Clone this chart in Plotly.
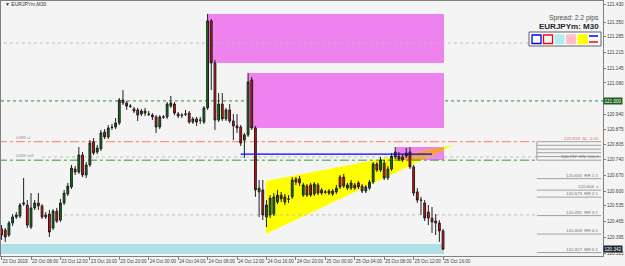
import plotly.graph_objects as go
import pandas as pd
import numpy as np

# ---------------- data ----------------
bar_times = pd.date_range("2019-10-23 04:00", periods=121, freq="30min")

opens = [120.432,120.427,120.405,120.458,120.485,120.489,120.542,120.538,120.440,120.525,
         120.547,120.534,120.485,120.498,120.436,120.511,120.471,120.547,120.587,120.618,
         120.698,120.684,120.760,120.671,120.716,120.818,120.773,120.787,120.862,120.840,
         120.884,120.884,120.902,121.004,120.991,120.977,120.964,120.960,120.942,120.955,
         120.942,120.937,120.929,120.884,120.929,120.929,120.977,120.986,120.942,120.937,
         120.942,120.946,120.906,120.920,120.915,120.906,120.969,121.355,121.168,120.915,
         120.986,120.920,120.960,120.911,120.889,120.884,120.826,120.849,121.093,120.880,
         120.596,120.605,120.485,120.494,120.498,120.551,120.582,120.551,120.565,120.574,
         120.654,120.654,120.582,120.622,120.627,120.587,120.627,120.605,120.596,120.600,
         120.587,120.596,120.662,120.662,120.613,120.613,120.627,120.636,120.622,120.600,
         120.613,120.640,120.720,120.693,120.724,120.658,120.698,120.751,120.755,120.751,
         120.769,120.773,120.707,120.596,120.560,120.547,120.507,120.480,120.467,120.458,
         120.423]
highs = [120.449,120.436,120.467,120.498,120.507,120.547,120.658,120.560,120.591,120.560,
         120.591,120.542,120.507,120.516,120.520,120.525,120.565,120.605,120.636,120.716,
         120.711,120.795,120.773,120.729,120.826,120.835,120.804,120.871,120.875,120.893,
         120.898,120.924,121.013,121.048,121.000,120.986,120.973,120.969,120.964,120.969,
         120.955,120.946,120.937,120.937,120.937,120.995,121.022,120.995,120.951,120.946,
         120.960,120.955,120.929,120.929,120.929,120.977,121.386,121.363,121.182,121.035,
         121.035,120.969,120.986,120.942,120.942,120.893,120.858,121.124,121.106,120.889,
         120.649,120.649,120.560,120.582,120.591,120.605,120.596,120.587,120.582,120.662,
         120.662,120.667,120.636,120.631,120.636,120.640,120.636,120.613,120.605,120.609,
         120.609,120.627,120.671,120.676,120.636,120.649,120.636,120.644,120.631,120.627,
         120.649,120.729,120.729,120.751,120.738,120.711,120.769,120.795,120.773,120.764,
         120.791,120.795,120.716,120.613,120.574,120.560,120.538,120.529,120.498,120.471,
         120.432]
lows = [120.383,120.374,120.396,120.445,120.476,120.480,120.534,120.436,120.432,120.516,
        120.516,120.476,120.476,120.396,120.427,120.458,120.463,120.538,120.578,120.609,
        120.671,120.676,120.662,120.658,120.707,120.760,120.764,120.778,120.831,120.831,
        120.871,120.875,120.893,120.982,120.960,120.969,120.946,120.911,120.933,120.933,
        120.933,120.915,120.858,120.875,120.920,120.920,120.969,120.937,120.924,120.924,
        120.933,120.898,120.898,120.889,120.898,120.898,120.960,121.048,120.871,120.906,
        120.911,120.911,120.902,120.826,120.858,120.800,120.747,120.840,120.871,120.574,
        120.485,120.471,120.440,120.480,120.489,120.542,120.551,120.538,120.547,120.565,
        120.627,120.622,120.574,120.574,120.574,120.578,120.582,120.582,120.587,120.582,
        120.578,120.587,120.609,120.613,120.605,120.605,120.605,120.609,120.591,120.591,
        120.605,120.631,120.684,120.684,120.649,120.649,120.689,120.742,120.733,120.729,
        120.747,120.698,120.578,120.547,120.494,120.467,120.449,120.414,120.405,120.374,
        120.338]
closes = [120.405,120.396,120.458,120.485,120.494,120.538,120.547,120.449,120.525,120.547,
          120.534,120.485,120.494,120.418,120.511,120.467,120.547,120.591,120.622,120.702,
          120.684,120.760,120.671,120.716,120.813,120.769,120.791,120.858,120.840,120.880,
          120.882,120.902,121.004,120.991,120.977,120.976,120.955,120.937,120.955,120.946,
          120.941,120.929,120.884,120.929,120.928,120.986,120.991,120.946,120.933,120.936,
          120.941,120.906,120.920,120.906,120.914,120.969,121.355,121.168,120.915,120.986,
          120.920,120.960,120.911,120.889,120.880,120.813,120.849,121.084,120.880,120.605,
          120.613,120.494,120.538,120.569,120.574,120.582,120.565,120.574,120.564,120.649,
          120.640,120.636,120.627,120.582,120.582,120.631,120.591,120.591,120.595,120.591,
          120.600,120.613,120.618,120.622,120.627,120.636,120.613,120.618,120.600,120.618,
          120.640,120.720,120.693,120.738,120.658,120.698,120.755,120.773,120.742,120.738,
          120.755,120.707,120.591,120.560,120.559,120.480,120.480,120.463,120.458,120.423,
          120.342]

price_ticks = [121.430, 121.350, 121.285, 121.215, 121.145, 121.080, 120.940, 120.875,
               120.805, 120.740, 120.670, 120.600, 120.535, 120.465, 120.395, 120.325]
time_ticks = pd.date_range("2019-10-23 04:00", "2019-10-25 16:00", freq="4h")
time_labels = ["23 Oct 2019", "23 Oct 08:00", "23 Oct 12:00", "23 Oct 16:00", "23 Oct 20:00",
               "24 Oct 00:00", "24 Oct 04:00", "24 Oct 08:00", "24 Oct 12:00", "24 Oct 16:00",
               "24 Oct 20:00", "25 Oct 00:00", "25 Oct 04:00", "25 Oct 08:00", "25 Oct 12:00",
               "25 Oct 16:00"]

# zones (start time, end time, low, high)
supply_zones = [("2019-10-24 08:00", "2019-10-25 16:08", 121.168, 121.386),
                ("2019-10-24 13:30", "2019-10-25 16:08", 120.880, 121.124),
                ("2019-10-25 09:30", "2019-10-25 16:08", 120.738, 120.795)]
demand_zone = ("2019-10-23 03:30", "2019-10-25 16:08", 120.320, 120.365)

wedge_times = ["2019-10-24 15:55", "2019-10-24 15:55", "2019-10-25 17:30"]
wedge_prices = [120.644, 120.409, 120.804]

round_level = 121.000
sl_level, sell_level = 120.819, 120.737
blue_level = ("2019-10-24 12:30", "2019-10-25 14:30", 120.764)
gray_levels = [("2019-10-23 03:30", "2019-10-26 14:00", 121.257),
               ("2019-10-23 09:30", "2019-10-26 04:45", 120.751),
               ("2019-10-23 12:30", "2019-10-26 04:45", 120.494)]
levels_end = "2019-10-26 04:45"

rr_prices = [120.819, 120.803, 120.786, 120.770, 120.753, 120.737, 120.655, 120.604,
             120.573, 120.491, 120.409, 120.327]
rr_labels = ["120.819  SL  0.00", "", "", "", "", "120.737  EN  100.0", "120.655  RR 1:1",
             "120.604  x", "120.573  RR 2:1", "120.491  RR 3:1", "120.409  RR 4:1", "120.327  RR 5:1"]

bid_price = 120.342

# ---------------- figure ----------------
W, H = 625, 266
ML, MR, MT, MB = 1, 22, 1, 10
PW, PH = W - ML - MR, H - MT - MB
def px(x):
    return (x - ML) / PW
def py(y):
    return 1 - (y - MT) / PH

FONT = "Liberation Sans"
fig = go.Figure()

def dpath(ts, ps):
    pts = [f"{pd.Timestamp(t).strftime('%Y-%m-%d_%H:%M:%S')},{p}" for t, p in zip(ts, ps)]
    return "M" + "L".join(pts) + "Z"

# overlap wedge/last zone (orange)
def clip_poly(poly, xmin, xmax, ymin, ymax):
    def clip(pts, inside, inter):
        out = []
        for k in range(len(pts)):
            a, b = pts[k - 1], pts[k]
            ia, ib = inside(a), inside(b)
            if ib:
                if not ia:
                    out.append(inter(a, b))
                out.append(b)
            elif ia:
                out.append(inter(a, b))
        return out
    def ix(v):
        return lambda a, b: (v, a[1] + (b[1] - a[1]) * (v - a[0]) / (b[0] - a[0]))
    def iy(v):
        return lambda a, b: (a[0] + (b[0] - a[0]) * (v - a[1]) / (b[1] - a[1]), v)
    p = poly
    p = clip(p, lambda q: q[0] >= xmin, ix(xmin))
    p = clip(p, lambda q: q[0] <= xmax, ix(xmax))
    p = clip(p, lambda q: q[1] >= ymin, iy(ymin))
    p = clip(p, lambda q: q[1] <= ymax, iy(ymax))
    return p

t0 = pd.Timestamp("2019-10-23")
def tnum(t):
    return (pd.Timestamp(t) - t0).total_seconds() / 60.0

shapes = []
for (a, b, lo, hi) in supply_zones:
    shapes.append(dict(type="rect", xref="x", yref="y", x0=a, x1=b, y0=lo, y1=hi,
                       fillcolor="#EE82EE", line=dict(width=0), layer="below"))
a, b, lo, hi = demand_zone
shapes.append(dict(type="rect", xref="x", yref="y", x0=a, x1=b, y0=lo, y1=hi,
                   fillcolor="#B0E0E6", line=dict(width=0), layer="below"))
# wedge (yellow) and its overlap with the last zone (orange)
shapes.append(dict(type="path", xref="x", yref="y", path=dpath(wedge_times, wedge_prices),
                   fillcolor="#FFFF00", line=dict(width=0), layer="below"))
wedge_poly = [(tnum(t), p) for t, p in zip(wedge_times, wedge_prices)]
z = supply_zones[2]
ov = clip_poly(wedge_poly, tnum(z[0]), tnum(z[1]), z[2], z[3])
if ov:
    shapes.append(dict(type="path", xref="x", yref="y",
                       path=dpath([t0 + pd.Timedelta(minutes=a) for a, _ in ov], [b for _, b in ov]),
                       fillcolor="#F2A33A", line=dict(width=0), layer="below"))
# gray dotted levels
for (a, b, lv) in gray_levels:
    shapes.append(dict(type="line", xref="x", yref="y", x0=a, x1=b, y0=lv, y1=lv,
                       line=dict(color="#BDBDBD", width=1, dash="dot"), layer="below"))
# round number
shapes.append(dict(type="line", xref="paper", yref="y", x0=0, x1=1, y0=round_level, y1=round_level,
                   line=dict(color="#2E8B2E", width=1, dash="dot"), layer="below"))
# sl / sell
shapes.append(dict(type="line", xref="x", yref="y", x0="2019-10-23 03:30", x1=levels_end, y0=sl_level, y1=sl_level,
                   line=dict(color="#FF7F50", width=1, dash="dashdot"), layer="below"))
shapes.append(dict(type="line", xref="x", yref="y", x0="2019-10-23 03:30", x1=levels_end, y0=sell_level, y1=sell_level,
                   line=dict(color="#339933", width=1, dash="dashdot"), layer="below"))
# blue line
shapes.append(dict(type="line", xref="x", yref="y", x0=blue_level[0], x1=blue_level[1], y0=blue_level[2], y1=blue_level[2],
                   line=dict(color="#0000FF", width=1.3)))
# RR box
for lv in rr_prices:
    shapes.append(dict(type="line", xref="x", yref="y", x0=levels_end, x1="2019-10-26 13:30", y0=lv, y1=lv,
                       line=dict(color="#A0A0A0", width=1)))
shapes.append(dict(type="line", xref="x", yref="y", x0=levels_end, x1=levels_end, y0=sell_level, y1=sl_level,
                   line=dict(color="#A0A0A0", width=1)))

# legend box top-right
shapes.append(dict(type="rect", xref="paper", yref="paper", x0=px(529), x1=px(601), y0=py(46), y1=py(32),
                   fillcolor="#FFFFFF", line=dict(color="#606060", width=1)))
icon_specs = [("#FFFFFF", "#0000FF"), ("#FFFFFF", "#FF0000"), ("#AFEEEE", "#AFEEEE"),
              ("#FFC0CB", "#FFC0CB"), ("#FFFF00", "#FFFF00")]
for k, (fc, lc) in enumerate(icon_specs):
    x0 = 532 + k * 11.5
    shapes.append(dict(type="rect", xref="paper", yref="paper", x0=px(x0), x1=px(x0 + 9), y0=py(43.5), y1=py(35),
                       fillcolor=fc, line=dict(color=lc, width=1.3)))
shapes.append(dict(type="line", xref="paper", yref="paper", x0=px(589), x1=px(598), y0=py(36), y1=py(36),
                   line=dict(color="#0000FF", width=1.5)))
shapes.append(dict(type="line", xref="paper", yref="paper", x0=px(589), x1=px(598), y0=py(42), y1=py(42),
                   line=dict(color="#FF0000", width=1.5)))

# candles
fig.add_trace(go.Candlestick(
    x=bar_times, open=opens, high=highs, low=lows, close=closes,
    increasing=dict(line=dict(color="#202020", width=1), fillcolor="#008000"),
    decreasing=dict(line=dict(color="#202020", width=1), fillcolor="#FF0000"),
    whiskerwidth=0, hoverinfo="skip", showlegend=False))

ann = []
ann.append(dict(xref="paper", yref="paper", x=px(3), y=py(4.5), text="▼ EURJPYm,M30", showarrow=False,
                xanchor="left", yanchor="middle", font=dict(family=FONT, size=5, color="#303030")))
ann.append(dict(xref="paper", yref="paper", x=px(601), y=py(18), text="Spread: 2.2 pips", showarrow=False,
                xanchor="right", yanchor="middle", font=dict(family=FONT, size=6.8, color="#505050")))
ann.append(dict(xref="paper", yref="paper", x=px(601), y=py(26.5), text="<b>EURJPYm: M30</b>", showarrow=False,
                xanchor="right", yanchor="middle", font=dict(family=FONT, size=8, color="#1C2833")))
ann.append(dict(xref="paper", yref="y", x=px(14), y=sl_level, text="0489 sl", showarrow=False,
                xanchor="left", yanchor="bottom", font=dict(family=FONT, size=4.4, color="#909090")))
ann.append(dict(xref="paper", yref="y", x=px(14), y=sell_level, text="0489 sell", showarrow=False,
                xanchor="left", yanchor="bottom", font=dict(family=FONT, size=4.4, color="#909090")))
for lv, lab in zip(rr_prices, rr_labels):
    if lab:
        col = "#E07050" if "SL" in lab else "#707070"
        ann.append(dict(xref="paper", yref="y", x=px(601), y=lv, text=lab, showarrow=False,
                        xanchor="right", yanchor="bottom", yshift=-1,
                        font=dict(family=FONT, size=4.4, color=col)))
ann.append(dict(xref="paper", yref="y", x=1, y=round_level, text="121.000", showarrow=False,
                xanchor="left", yanchor="middle", bgcolor="#1E5E1E", borderpad=0.5,
                font=dict(family=FONT, size=4.6, color="#FFFFFF")))
ann.append(dict(xref="paper", yref="y", x=1, y=bid_price, text=f"{bid_price:.3f}", showarrow=False,
                xanchor="left", yanchor="middle", bgcolor="#1C2833", borderpad=0.5,
                font=dict(family=FONT, size=4.6, color="#FFFFFF")))

# axis ranges from pixel geometry: bar i at x = 1.57 + 3.679*i, price y = 121.4478 - 0.004438*y
bar_px = 3.679
first_px = 1.57
x_left = bar_times[0] + pd.Timedelta(minutes=30 * (ML - first_px) / bar_px)
x_right = bar_times[0] + pd.Timedelta(minutes=30 * (ML + PW - first_px) / bar_px)
y_top = 121.4478 - 0.004438 * MT
y_bot = 121.4478 - 0.004438 * (MT + PH)

fig.update_layout(
    width=W, height=H, margin=dict(l=ML, r=MR, t=MT, b=MB),
    paper_bgcolor="#F4F4F4", plot_bgcolor="#F4F4F4",
    shapes=shapes, annotations=ann, showlegend=False,
    xaxis=dict(range=[x_left, x_right], rangeslider=dict(visible=False), showgrid=False, zeroline=False,
               tickvals=time_ticks, ticktext=time_labels, ticks="outside", ticklen=3, tickcolor="#808080",
               tickangle=0, automargin=False,
               ticklabelposition="outside right", tickfont=dict(family=FONT, size=4.6, color="#404040"),
               showline=True, linecolor="#808080", mirror=True),
    yaxis=dict(range=[y_bot, y_top], side="right", showgrid=False, zeroline=False, automargin=False,
               tickvals=price_ticks, ticktext=[f"{v:.3f}" for v in price_ticks], ticks="outside", ticklen=2,
               tickcolor="#808080", tickfont=dict(family=FONT, size=4.6, color="#404040"),
               showline=True, linecolor="#808080", mirror=True),
)

fig.write_html("out.html")
